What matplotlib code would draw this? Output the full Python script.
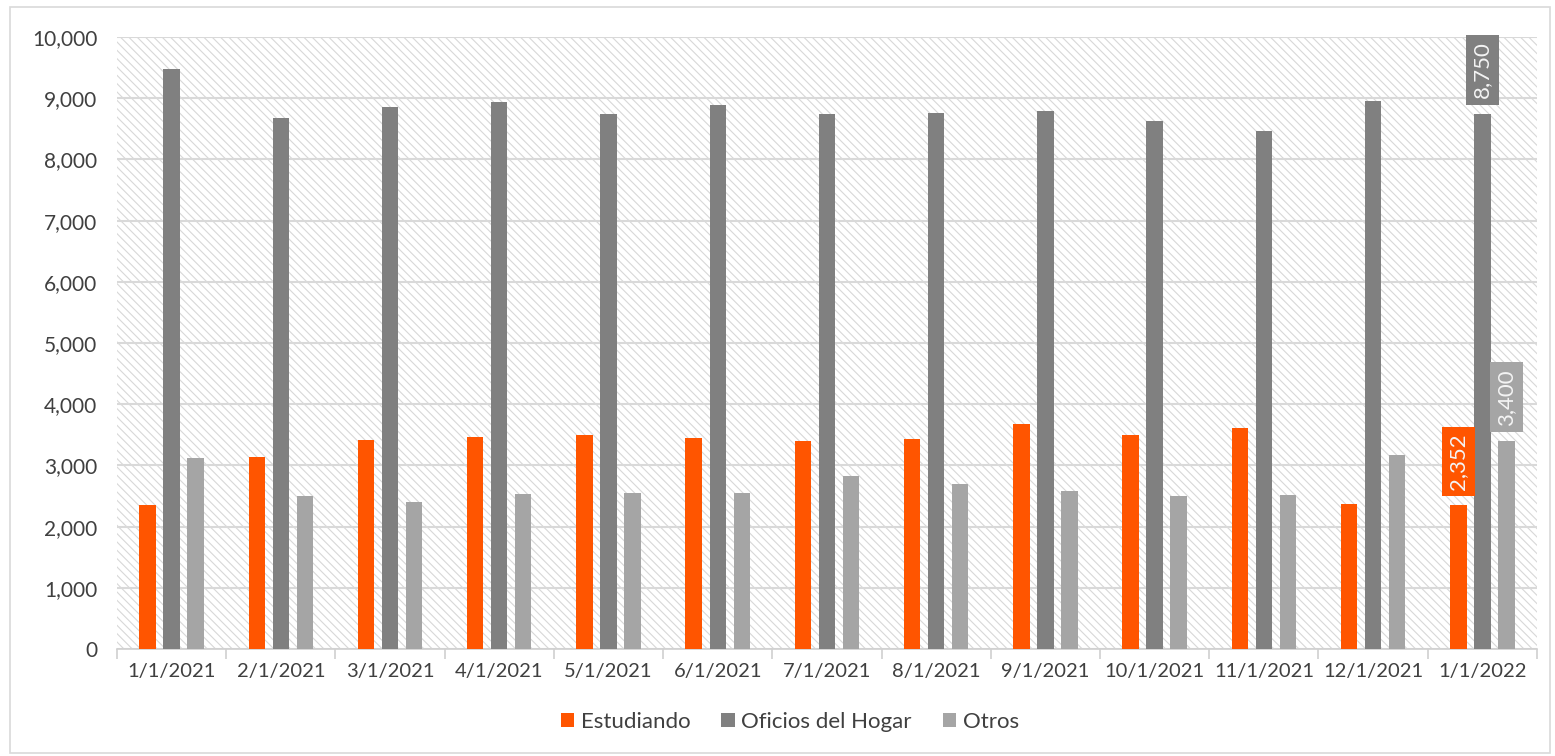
import numpy as np
import matplotlib
matplotlib.use('Agg')
import matplotlib.pyplot as plt
from matplotlib.patches import Rectangle

fechas = ['1/1/2021', '2/1/2021', '3/1/2021', '4/1/2021', '5/1/2021', '6/1/2021', '7/1/2021',
          '8/1/2021', '9/1/2021', '10/1/2021', '11/1/2021', '12/1/2021', '1/1/2022']
estudiando = [2353, 3137, 3415, 3464, 3497, 3448, 3399, 3431, 3676, 3497, 3611, 2369, 2352]
oficios = [9477, 8676, 8856, 8938, 8742, 8889, 8742, 8758, 8791, 8627, 8464, 8954, 8750]
otros = [3121, 2500, 2402, 2533, 2549, 2549, 2827, 2696, 2582, 2500, 2516, 3170, 3400]

series = [('Estudiando', estudiando, '#FF5500'),
          ('Oficios del Hogar', oficios, '#808080'),
          ('Otros', otros, '#A5A5A5')]

plt.rcParams['font.family'] = ['Lato', 'DejaVu Sans']
plt.rcParams['hatch.color'] = '#d8d8d8'
plt.rcParams['hatch.linewidth'] = 0.8
txt = '#404040'

fig = plt.figure(figsize=(15.55, 7.56), dpi=100)
ax = fig.add_axes([0.0752, 0.1415, 0.9132, 0.8095])
fig.patches.append(Rectangle((0.0065, 0.004), 0.99, 0.987, transform=fig.transFigure,
                             fill=False, edgecolor='#d9d9d9', linewidth=1.2))

ax.patch.set_facecolor('white')
ax.patch.set_hatch('\\\\\\\\')
ax.patch.set_edgecolor('#d8d8d8')
ax.patch.set_linewidth(0)

x = np.arange(len(fechas))
w = 0.15
offs = [-0.22, 0, 0.22]
for (name, vals, col), o in zip(series, offs):
    ax.bar(x + o, vals, width=w, color=col, label=name, zorder=3)
    v = vals[-1]
    ax.annotate(f'{v:,}', (x[-1] + o, v), xytext=(0, 11), textcoords='offset points',
                rotation=90, ha='center', va='bottom', fontsize=16, color='#f4f4f4',
                bbox=dict(boxstyle='square,pad=0.3', facecolor=col, edgecolor='none'),
                zorder=5, annotation_clip=False)

ax.set_xlim(-0.5, len(fechas) - 0.5)
ax.set_ylim(0, 10000)
ax.set_yticks(np.arange(0, 10001, 1000))
ax.set_yticklabels([f'{t:,}' for t in range(0, 10001, 1000)])
ax.yaxis.grid(True, color='#d9d9d9', linewidth=1.5, zorder=1)
ax.set_axisbelow(True)

ax.set_xticks(x)
ax.set_xticklabels(fechas)
ax.set_xticks(np.arange(-0.5, len(fechas), 1), minor=True)
ax.tick_params(axis='x', which='major', length=0, pad=10, labelsize=14.5, labelcolor=txt)
ax.tick_params(axis='x', which='minor', length=7, color='#d0d0d0', width=1.2)
ax.tick_params(axis='y', length=0, pad=14, labelsize=15, labelcolor=txt)

for s in ['top', 'right', 'left']:
    ax.spines[s].set_visible(False)
ax.spines['bottom'].set_color('#d0d0d0')
ax.spines['bottom'].set_linewidth(1.2)

fig.legend(loc='center', bbox_to_anchor=(0.508, 0.045), ncol=3, frameon=False,
           fontsize=16, labelcolor=txt, handlelength=0.6,
           handleheight=0.6, handletextpad=0.3, columnspacing=1.4)

fig.savefig('out.png', dpi=100)
